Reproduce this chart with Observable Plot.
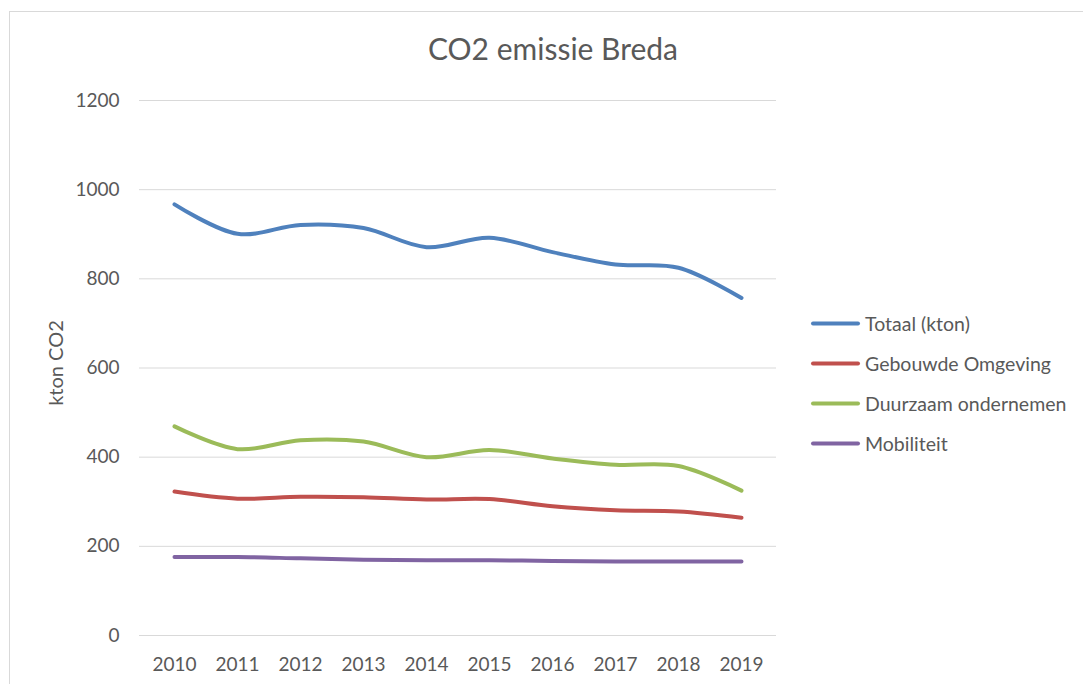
<!DOCTYPE html>
<html><head><meta charset="utf-8">
<script src="https://cdn.jsdelivr.net/npm/d3@7"></script>
<script src="https://cdn.jsdelivr.net/npm/@observablehq/plot@0.6"></script>
<style>
body{margin:0;background:#fff;overflow:hidden;font-family:Lato,"Open Sans",sans-serif}
#wrap{position:relative;width:1083px;height:684px;overflow:hidden;background:#fff}
#frame{position:absolute;left:9px;top:11px;width:1200px;height:800px;border:1px solid #d9d9d9;box-sizing:border-box}
#chart{position:absolute;left:0;top:0}
#title{position:absolute;left:9px;width:1088px;top:30px;text-align:center;font-size:30px;color:#595959;line-height:36px}
#ylabel{position:absolute;left:55px;top:363px;transform:translate(-50%,-50%) rotate(-90deg);font-size:20px;color:#595959;white-space:nowrap}
#legend{position:absolute;left:811px;top:0}
.item{position:absolute;left:0;display:flex;align-items:center;white-space:nowrap;font-size:19.5px;color:#595959;transform:translateY(-50%)}
.sw{display:inline-block;width:49px;height:4px;border-radius:2px;margin-right:5px}
</style></head>
<body>
<div id="wrap">
  <div id="frame"></div>
  <div id="chart"></div>
  <div id="title">CO2 emissie Breda</div>
  <div id="ylabel">kton CO2</div>
  <div id="legend"></div>
</div>
<script>
const years = ["2010","2011","2012","2013","2014","2015","2016","2017","2018","2019"];
const seriesNames = ["Totaal (kton)","Gebouwde Omgeving","Duurzaam ondernemen","Mobiliteit"];
const totaal = [967, 901, 921, 914, 871, 892, 860, 832, 825, 757];
const gebouwde = [323, 307, 311, 310, 305, 306, 290, 281, 278, 264];
const duurzaam = [469, 418, 438, 435, 400, 416, 397, 383, 380, 325];
const mobiliteit = [176, 176, 173, 170, 169, 169, 167, 166, 166, 166];
const yTicks = [0, 200, 400, 600, 800, 1000, 1200];
const colors = ["#4F81BD", "#C0504D", "#9BBB59", "#8064A2"];

const seriesValues = [totaal, gebouwde, duurzaam, mobiliteit];
const data = [];
seriesNames.forEach((s, i) => years.forEach((y, j) => data.push({series: s, year: y, value: seriesValues[i][j]})));

const plot = Plot.plot({
  width: 1083,
  height: 684,
  marginTop: 100,
  marginBottom: 49,
  marginLeft: 139,
  marginRight: 307,
  style: {fontFamily: "Lato, 'Open Sans', sans-serif", fontSize: "19px", color: "#595959", background: "transparent"},
  x: {type: "point", domain: years, padding: 0.5},
  y: {domain: [0, 1200]},
  color: {domain: seriesNames, range: colors},
  marks: [
    Plot.gridY(yTicks, {stroke: "#d9d9d9", strokeOpacity: 1, strokeWidth: 1}),
    Plot.axisY(yTicks, {tickSize: 0, tickPadding: 20, label: null, tickFormat: d => String(d), fill: "#595959", fontSize: 19}),
    Plot.axisX(years, {tickSize: 0, tickPadding: 22, label: null, fill: "#595959", fontSize: 19}),
    Plot.line(data, {x: "year", y: "value", stroke: "series", z: "series", curve: "catmull-rom", strokeWidth: 4, strokeLinecap: "round", strokeLinejoin: "round"})
  ]
});
document.getElementById("chart").appendChild(plot);

const legend = document.getElementById("legend");
const legendY = [323, 363, 403, 443];
seriesNames.forEach((s, i) => {
  const d = document.createElement("div");
  d.className = "item";
  d.style.top = legendY[i] + "px";
  const sw = document.createElement("span");
  sw.className = "sw";
  sw.style.background = colors[i];
  d.appendChild(sw);
  d.appendChild(document.createTextNode(s));
  legend.appendChild(d);
});
</script>
</body></html>
